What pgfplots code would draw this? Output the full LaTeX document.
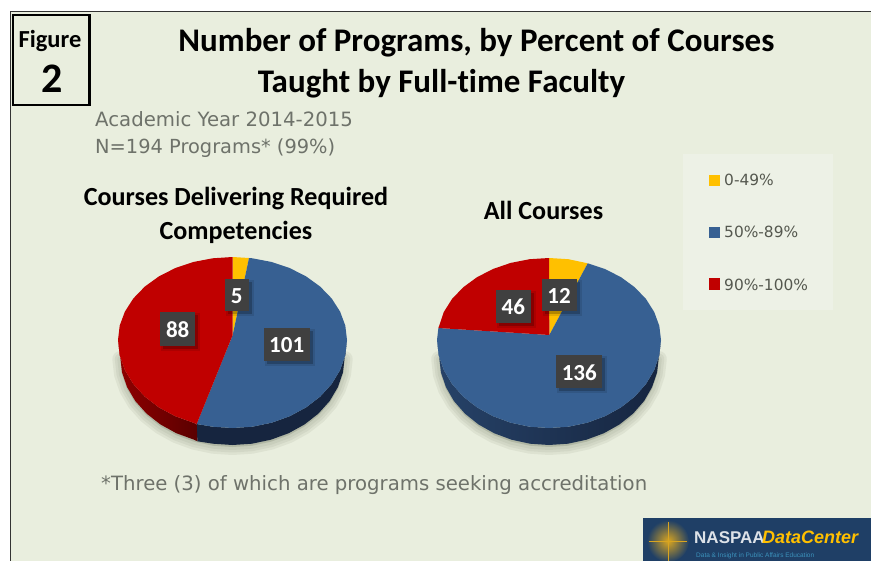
\documentclass[border=0pt]{standalone}
\usepackage{pgfplots}
\pgfplotsset{compat=1.18}
\usepackage{pgfplotstable}
\usepackage{fontspec}
\setmainfont[Ligatures=NoCommon]{Carlito}
\newfontfamily\subfont{DejaVu Sans}
\newfontfamily\logofont{Liberation Sans}
\definecolor{bg}{HTML}{E9EEDE}
\definecolor{legbg}{HTML}{EDF1E6}
\definecolor{cy}{HTML}{FFC000}
\definecolor{cb}{HTML}{376092}
\definecolor{cr}{HTML}{C00000}
\definecolor{subgray}{HTML}{6E726A}
\definecolor{leggray}{HTML}{55584F}
\definecolor{boxc}{HTML}{404040}
\definecolor{logoc}{HTML}{1F3F66}
\definecolor{shad}{HTML}{7F8670}
\definecolor{sbd}{HTML}{16253F}
\definecolor{sbl}{HTML}{264268}
\definecolor{srl}{HTML}{8F0000}
\definecolor{srd}{HTML}{5A0000}
\definecolor{sun}{HTML}{D9A520}
\newcommand{\fs}[1]{\fontsize{#1bp}{#1bp}\selectfont}
\newcommand{\lab}[5]{%
  \fill[black,opacity=.10] (axis cs:#1+3-#3/2-2,#2+3-#4/2-2) rectangle (axis cs:#1+3+#3/2+2,#2+3+#4/2+2);
  \fill[black,opacity=.22] (axis cs:#1+3-#3/2,#2+3-#4/2) rectangle (axis cs:#1+3+#3/2,#2+3+#4/2);
  \fill[boxc] (axis cs:#1-#3/2,#2-#4/2) rectangle (axis cs:#1+#3/2,#2+#4/2);
  \node[white,font=\fs{23}\bfseries] at (axis cs:#1,#2+1) {#5};}
% Left pie: 5, 101, 88
\pgfplotstableread{
x y
232.7 335
232.5 257
249 258
}\Ly
\pgfplotstableread{
x y
232.7 335
249 258
252.4 258.3
271.7 262
289.8 268.1
306.1 276.4
320.2 286.6
331.7 298.5
340.1 311.6
345.3 325.6
347 340
345.3 355.3
340.1 370.1
331.7 384
320.2 396.6
306.1 407.4
289.8 416.2
271.7 422.7
252.4 426.7
232.5 428
212.6 426.7
196.7 424
}\Lb
\pgfplotstableread{
x y
232.7 335
196.7 424
193.3 422.7
175.2 416.2
158.9 407.4
144.8 396.6
133.3 384
124.9 370.1
119.7 355.3
118 340
119.7 325.6
124.9 311.6
133.3 298.5
144.8 286.6
158.9 276.4
175.2 268.1
193.3 262
212.6 258.3
232.5 257
}\Lr
\pgfplotstableread{
x y
347 340
345.3 355.3
340.1 370.1
331.7 384
320.2 396.6
306.1 407.4
289.8 416.2
271.7 422.7
252.4 426.7
232.5 428
212.6 426.7
196.7 424
197.4 441.3
213 443.7
232.5 445
252 443.7
270.9 439.7
288.7 433.2
304.6 424.4
318.4 413.6
329.7 401
337.9 387.1
343 372.3
344.7 357
}\Lsb
\pgfplotstableread{
x y
196.7 424
193.3 422.7
175.2 416.2
158.9 407.4
144.8 396.6
133.3 384
124.9 370.1
119.7 355.3
118 340
120.3 357
122 372.3
127.1 387.1
135.3 401
146.6 413.6
160.4 424.4
176.3 433.2
194.1 439.7
197.4 441.3
}\Lsr
\pgfplotstableread{
x y
344.7 357
343 372.3
337.9 387.1
329.7 401
318.4 413.6
304.6 424.4
288.7 433.2
270.9 439.7
252 443.7
232.5 445
213 443.7
194.1 439.7
176.3 433.2
160.4 424.4
146.6 413.6
135.3 401
127.1 387.1
122 372.3
120.3 357
}\Lsh
% Right pie: 12, 136, 46
\pgfplotstableread{
x y
549.3 335
549 258
568.4 259.2
587.7 263.3
}\Ry
\pgfplotstableread{
x y
549.3 335
587.7 263.3
605 269
621 277.2
634.8 287.3
646 299
654.2 312
659.3 325.8
661 340
659.3 355.3
654.2 370.1
646 384
634.8 396.6
621 407.4
605 416.2
587.3 422.7
568.4 426.7
549 428
529.6 426.7
510.7 422.7
493 416.2
477 407.4
463.2 396.6
452 384
443.8 370.1
438.7 355.3
437 340
438.4 328
}\Rb
\pgfplotstableread{
x y
549.3 335
438.4 328
443.8 312
452 299
463.2 287.3
477 277.2
493 269
510.7 262.9
529.6 259.2
549 258
}\Rr
\pgfplotstableread{
x y
661 340
659.3 355.3
654.2 370.1
646 384
634.8 396.6
621 407.4
605 416.2
587.3 422.7
568.4 426.7
549 428
529.6 426.7
510.7 422.7
493 416.2
477 407.4
463.2 396.6
452 384
443.8 370.1
438.7 355.3
437 340
439.2 357
440.9 372.3
445.9 387.1
453.9 401
464.9 413.6
478.4 424.4
494.1 433.2
511.5 439.7
530 443.7
549 445
568 443.7
586.5 439.7
603.9 433.2
619.6 424.4
633.1 413.6
644.1 401
652.1 387.1
657.1 372.3
658.8 357
}\Rs
\pgfplotstableread{
x y
658.8 357
657.1 372.3
652.1 387.1
644.1 401
633.1 413.6
619.6 424.4
603.9 433.2
586.5 439.7
568 443.7
549 445
530 443.7
511.5 439.7
494.1 433.2
478.4 424.4
464.9 413.6
453.9 401
445.9 387.1
440.9 372.3
439.2 357
}\Rsh
\pgfplotsset{sh/.style={draw=shad,fill=shad,opacity=.11,line join=round,yshift=-2bp}}
\begin{document}
\begin{tikzpicture}
\begin{axis}[scale only axis,width=871bp,height=561bp,hide axis,
  xmin=0,xmax=871,ymin=0,ymax=561,y dir=reverse]
% page and panel
\fill[white] (axis cs:0,0) rectangle (axis cs:871,561);
\fill[bg] (axis cs:10.5,11.5) rectangle (axis cs:871,561);
\draw[black!80,line width=1.2bp] (axis cs:10.5,561) -- (axis cs:10.5,11.5) -- (axis cs:871,11.5);
\draw[black,line width=2.2bp] (axis cs:13,15) rectangle (axis cs:89.5,105);
\node[font=\fs{24.5}\bfseries] at (axis cs:50,41) {Figure};
\node[font=\fs{42}\bfseries] at (axis cs:52,79) {2};
% titles
\node[font=\fs{33}\bfseries] at (axis cs:476.5,43) {Number of Programs, by Percent of Courses};
\node[font=\fs{33}\bfseries] at (axis cs:441.5,84) {Taught by Full-time Faculty};
\node[anchor=mid west,inner sep=0pt,text=subgray,font=\subfont\fs{19.7}] at (axis cs:95,124) {Academic Year 2014-2015};
\node[anchor=mid west,inner sep=0pt,text=subgray,font=\subfont\fs{19.4}] at (axis cs:95,151) {N=194 Programs* (99\%)};
\node[font=\fs{26.1}\bfseries] at (axis cs:236,199) {Courses Delivering Required};
\node[font=\fs{26.1}\bfseries] at (axis cs:236,232) {Competencies};
\node[font=\fs{26.1}\bfseries] at (axis cs:543.5,210) {All Courses};
\node[anchor=mid west,inner sep=0pt,text=subgray,font=\subfont\fs{19.7}] at (axis cs:101,488) {*Three (3) of which are programs seeking accreditation};
% legend
\fill[legbg] (axis cs:683,154) rectangle (axis cs:833,310);
\fill[cy] (axis cs:709,175) rectangle (axis cs:720,186);
\fill[cb] (axis cs:709,227) rectangle (axis cs:720,238);
\fill[cr] (axis cs:709,278) rectangle (axis cs:720,290);
\node[anchor=mid west,inner sep=0pt,text=leggray,font=\subfont\fs{15.4}] at (axis cs:724,183) {0-49\%};
\node[anchor=mid west,inner sep=0pt,text=leggray,font=\subfont\fs{15.4}] at (axis cs:724,235) {50\%-89\%};
\node[anchor=mid west,inner sep=0pt,text=leggray,font=\subfont\fs{15.4}] at (axis cs:724,288) {90\%-100\%};
% shadows
\addplot[sh,line width=16bp] table {\Lsh} -- cycle;
\addplot[sh,line width=11bp] table {\Lsh} -- cycle;
\addplot[sh,line width=6bp] table {\Lsh} -- cycle;
\addplot[sh,line width=16bp] table {\Rsh} -- cycle;
\addplot[sh,line width=11bp] table {\Rsh} -- cycle;
\addplot[sh,line width=6bp] table {\Rsh} -- cycle;
% left pie sides and faces
\addplot[draw=none,fill=sbd] table {\Lsb} -- cycle;
\addplot[draw=none,left color=srl,right color=srd] table {\Lsr} -- cycle;
\addplot[draw=none,fill=cy] table {\Ly} -- cycle;
\addplot[draw=none,fill=cb] table {\Lb} -- cycle;
\addplot[draw=none,fill=cr] table {\Lr} -- cycle;
% right pie sides and faces
\addplot[draw=none,left color=sbl,middle color=sbd,right color=sbd] table {\Rs} -- cycle;
\addplot[draw=none,fill=cy] table {\Ry} -- cycle;
\addplot[draw=none,fill=cb] table {\Rb} -- cycle;
\addplot[draw=none,fill=cr] table {\Rr} -- cycle;
% data labels
\lab{236.7}{295}{24}{32}{5}
\lab{177.7}{328.7}{35}{34}{88}
\lab{286.7}{344.3}{46}{33}{101}
\lab{559}{295}{35}{32}{12}
\lab{513.3}{306}{35}{33}{46}
\lab{579.3}{371.7}{46}{33}{136}
% logo
\fill[logoc] (axis cs:643,518) rectangle (axis cs:871,561);
\shade[inner color=sun,outer color=logoc] (axis cs:668,541) circle (21bp);
\draw[sun,line width=.4bp] (axis cs:649,541) -- (axis cs:687,541) (axis cs:668,522) -- (axis cs:668,561);
\node[anchor=mid west,inner sep=0pt,text=white!85!logoc,font=\logofont\fs{17}\bfseries] at (axis cs:694,541) {NASPAA};
\node[anchor=mid west,inner sep=0pt,text=cy,font=\logofont\fs{18}\bfseries\itshape] at (axis cs:762,541) {DataCenter};
\node[anchor=mid west,inner sep=0pt,text=cyan!60!logoc,font=\logofont\fs{6.5}] at (axis cs:696,555) {Data \& Insight in Public Affairs Education};
\end{axis}
\end{tikzpicture}
\end{document}
